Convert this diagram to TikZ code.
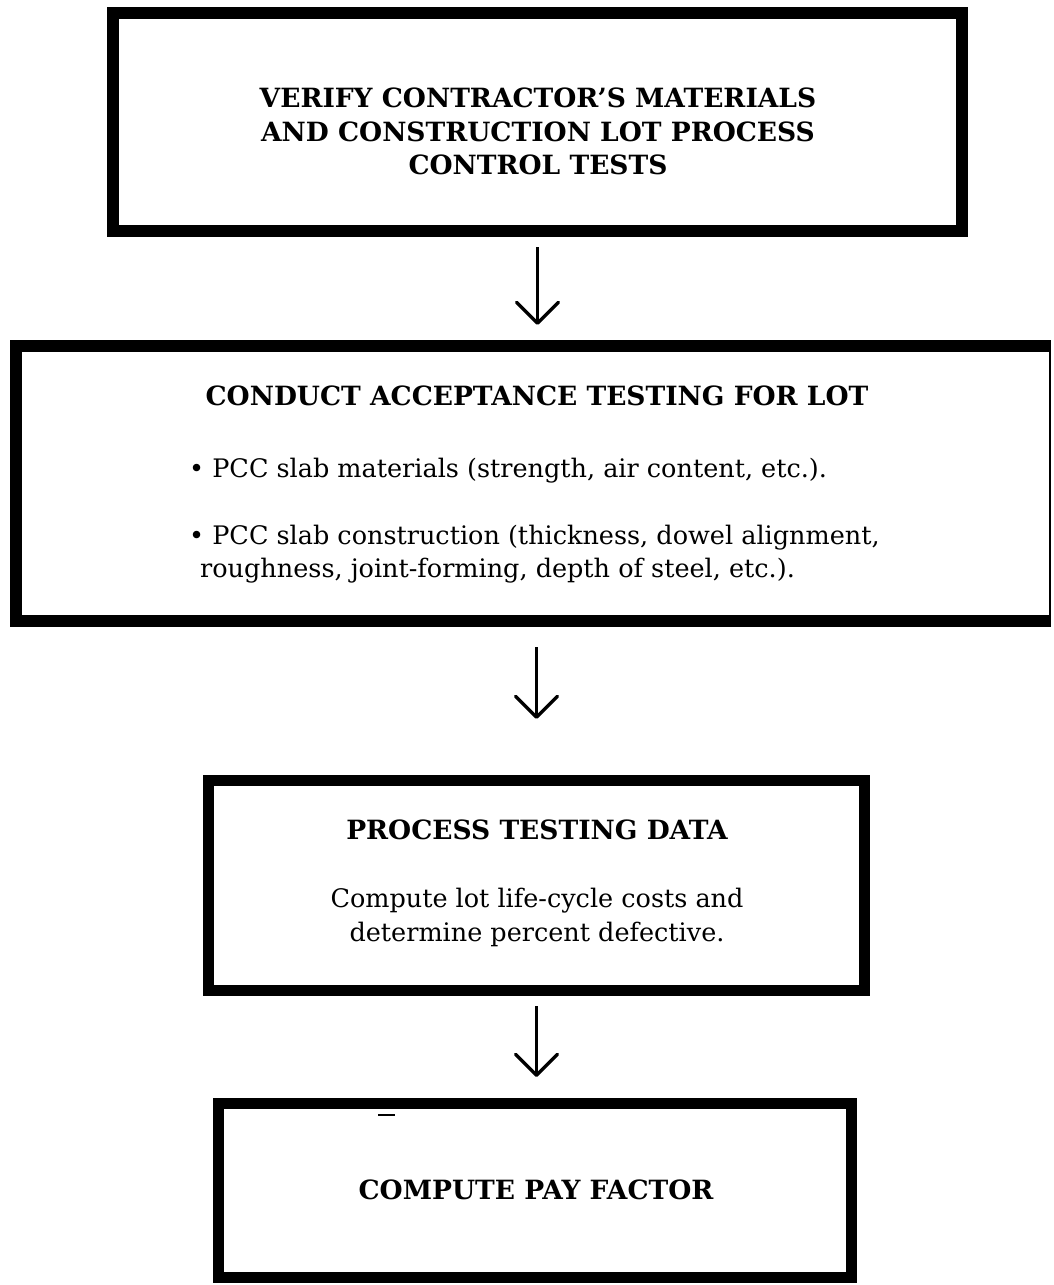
\documentclass[tikz,border=0pt]{standalone}
\usepackage{fontspec}
\setmainfont{DejaVu Serif}
\usetikzlibrary{arrows.meta}
\begin{document}
\begin{tikzpicture}[x=1pt,y=-1pt,
  boxframe/.style={draw=black, rectangle, inner sep=0pt},
  headtext/.style={font=\fontsize{26.5}{30}\selectfont\bfseries, anchor=base, inner sep=0pt},
  bodytext/.style={font=\fontsize{25.5}{30}\selectfont, anchor=base, inner sep=0pt},
  flow/.style={line width=3.5pt, -{Straight Barb[length=21pt,width=42pt,round]}},
]
\useasboundingbox (0,0) rectangle (1054,1285);
% boxes
\node[boxframe, line width=12pt, minimum width=849pt, minimum height=218pt] (b1) at (537.5,122) {};
\node[rectangle, inner sep=0pt, outer sep=0pt, minimum width=1034pt, minimum height=275pt] (b2) at (533,483.5) {};
\draw[line width=12pt] (b2.north east) -- (b2.north west) -- (b2.south west) -- (b2.south east);
\draw[line width=2.5pt] ([yshift=6pt]b2.north east) -- ([yshift=-6pt]b2.south east);
\node[boxframe, line width=11pt, minimum width=656pt, minimum height=210pt] (b3) at (536.5,885.5) {};
\node[boxframe, line width=11pt, minimum width=633pt, minimum height=174pt] (b4) at (535,1190.5) {};
% stray mark
\draw[line width=2pt] (378,1115) -- (395,1115);
% texts
\node[headtext] (t1a) at (538,107) {VERIFY CONTRACTOR’S MATERIALS};
\node[headtext] (t1b) at (538,141) {AND CONSTRUCTION LOT PROCESS};
\node[headtext] (t1c) at (538,174) {CONTROL TESTS};
\node[headtext] (t2h) at (537,405) {CONDUCT ACCEPTANCE TESTING FOR LOT};
\node[bodytext, anchor=base west] (t2a) at (189,477) {•~PCC slab materials (strength, air content, etc.).};
\node[bodytext, anchor=base west] (t2b) at (189,544) {•~PCC slab construction (thickness, dowel alignment,};
\node[bodytext, anchor=base west] (t2c) at (200,577) {roughness, joint-forming, depth of steel, etc.).};
\node[headtext] (t3h) at (537,839) {PROCESS TESTING DATA};
\node[bodytext] (t3a) at (537,907) {Compute lot life-cycle costs and};
\node[bodytext] (t3b) at (537,941) {determine percent defective.};
\node[headtext] (t4h) at (536,1199) {COMPUTE PAY FACTOR};
% arrows
\draw[flow, shorten <=10pt, shorten >=21pt] (b1.south) -- (b1.south |- b2.north);
\draw[flow, shorten <=26pt, shorten >=56pt] (b3.north |- b2.south) -- (b3.north);
\draw[flow, shorten <=10pt, shorten >=21pt] (b3.south) -- (b3.south |- b4.north);
\end{tikzpicture}
\end{document}
